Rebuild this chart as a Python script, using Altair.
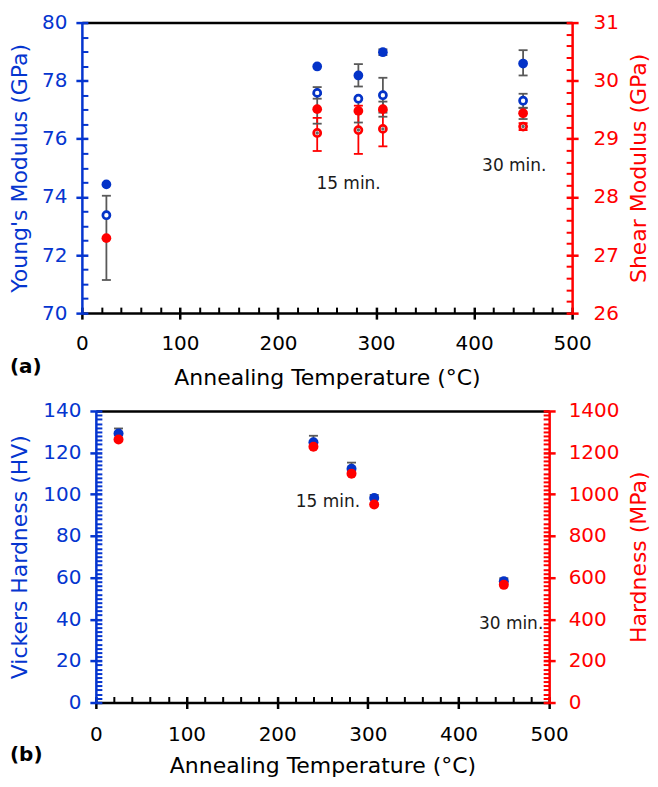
import altair as alt
import pandas as pd

FONT = "DejaVu Sans"
AXIS_BLUE = "#0535CF"
MARK_BLUE = "#0433C8"
RED = "#FF0000"
GRAY = "#595959"
BLACK = "#000000"
CAP = "M-1,0L1,0"

# ---------------- panel (a) data ----------------
temp = [25, 240, 282, 307, 450]
young_filled = [74.43, 78.49, 78.18, 78.98, 78.59]
young_open = [73.37, 77.58, 77.38, 77.50, 77.31]
shear_filled = [27.29, 29.51, 29.48, 29.51, 29.44]
temp_shear_open = [240, 282, 307, 450]
shear_open = [29.10, 29.15, 29.17, 29.21]

young_err_temp = [240, 282, 307, 307, 450, 450]
young_err_lo = [77.38, 77.80, 78.88, 76.90, 78.18, 77.07]
young_err_hi = [77.78, 78.57, 79.08, 78.10, 79.05, 77.55]

shear_err_temp = [25, 240, 282, 307, 450, 240, 282, 307, 450]
shear_err_lo = [26.57, 29.26, 29.28, 29.38, 29.34, 28.79, 28.74, 28.87, 29.15]
shear_err_hi = [28.02, 29.77, 29.68, 29.64, 29.53, 29.36, 29.57, 29.48, 29.27]
shear_err_kind = ["filled", "filled", "filled", "filled", "filled", "open", "open", "open", "open"]

notes_text = ["15 min.", "30 min."]
notes_a_temp = [272, 441]
notes_a_young = [74.43, 75.05]

# ---------------- panel (b) data ----------------
hv = [129.2, 125.0, 112.2, 98.2, 58.2]
hv_err_lo = [126.8, 121.9, 109.2, 96.7, 56.7]
hv_err_hi = [131.6, 128.1, 115.2, 99.7, 59.7]
mpa = [1263, 1228, 1099, 951, 565]
notes_b_temp = [256, 458]
notes_b_hv = [96.2, 37.6]

# ---------------- tick values ----------------
x_major = [0, 100, 200, 300, 400, 500]
x_minor = [v for v in range(0, 501, 20) if v % 100]
young_major = [70, 72, 74, 76, 78, 80]
young_minor = [70 + 0.5 * i for i in range(21) if i % 4]
shear_major = [26, 27, 28, 29, 30, 31]
shear_minor = [26 + 0.2 * i for i in range(26) if i % 5]
hv_major = [0, 20, 40, 60, 80, 100, 120, 140]
hv_minor = [v for v in range(0, 141, 2) if v % 20]
mpa_major = [0, 200, 400, 600, 800, 1000, 1200, 1400]
mpa_minor = [v for v in range(0, 1401, 20) if v % 200]

# ---------------- layout (pixels inside the single view) ----------------
W = 491            # full view width = top panel plot width
A_H = 291          # top panel plot bottom
B_TOP, B_BOT = 389, 681
B_LEFT, B_RIGHT = 14, 468
H = B_BOT


def ax_domain(orient, color, off=0):
    return alt.Axis(orient=orient, domain=True, domainColor=color, domainWidth=2.5,
                    ticks=False, labels=False, grid=False, title=None, offset=off)


def ax_major(orient, color, values, off=-6, title=None, label_pad=10, title_pad=12, **kw):
    args = dict(orient=orient, values=values, domain=False, ticks=True, tickSize=12,
                tickWidth=2.5, tickColor=color, offset=off, labels=True, labelColor=color,
                labelFont=FONT, labelFontSize=20, labelPadding=label_pad, labelFlush=False,
                labelOverlap=False, grid=False, format="d")
    if title:
        args.update(title=title, titleColor=color, titleFont=FONT, titleFontSize=22,
                    titleFontWeight="normal", titlePadding=title_pad)
    else:
        args["title"] = None
    args.update(kw)
    return alt.Axis(**args)


def ax_minor(orient, color, values, off=-6):
    return alt.Axis(orient=orient, values=values, domain=False, ticks=True, tickSize=6,
                    tickWidth=2, tickColor=color, offset=off, labels=False, grid=False,
                    title=None)


def xa(field, axis):
    return alt.X(field, type="quantitative", axis=axis,
                 scale=alt.Scale(domain=[0, 500], range=[0, W], nice=False, zero=False))


def xb(field, axis):
    return alt.X(field, type="quantitative", axis=axis,
                 scale=alt.Scale(domain=[0, 500], range=[B_LEFT, B_RIGHT], nice=False, zero=False))


def ya(field, dom, axis):
    return alt.Y(field, type="quantitative", axis=axis,
                 scale=alt.Scale(domain=dom, range=[A_H, 0], nice=False, zero=False))


def yb(field, dom, axis):
    return alt.Y(field, type="quantitative", axis=axis,
                 scale=alt.Scale(domain=dom, range=[B_BOT, B_TOP], nice=False, zero=False))


# ================= panel (a) =================
YD = [70, 80]
GD = [26, 31]
df_yf = pd.DataFrame({"temp": temp, "v": young_filled})
df_yo = pd.DataFrame({"temp": temp, "v": young_open})
df_sf = pd.DataFrame({"temp": temp, "v": shear_filled})
df_so = pd.DataFrame({"temp": temp_shear_open, "v": shear_open})
df_ye = pd.DataFrame({"temp": young_err_temp, "lo": young_err_lo, "hi": young_err_hi})
df_se = pd.DataFrame({"temp": shear_err_temp, "lo": shear_err_lo, "hi": shear_err_hi,
                      "kind": shear_err_kind})
df_na = pd.DataFrame({"temp": notes_a_temp, "v": notes_a_young, "t": notes_text})
kind_color = alt.Color("kind:N", scale=alt.Scale(domain=["filled", "open"], range=[GRAY, RED]),
                       legend=None)

a_off = -(H - A_H)
layers = [
    alt.Chart(df_ye).mark_rule(color=GRAY, strokeWidth=1.8).encode(
        x=xa("temp", ax_major("bottom", BLACK, x_major, off=a_off - 6,
                              title="Annealing Temperature (°C)", label_pad=14, title_pad=14)),
        y=ya("lo", YD, ax_domain("left", AXIS_BLUE)), y2="hi"),
    alt.Chart(df_ye).mark_point(shape=CAP, size=81, color=GRAY, strokeWidth=1.8, opacity=1).encode(
        x=xa("temp", ax_minor("bottom", BLACK, x_minor, off=a_off - 6)),
        y=ya("lo", YD, ax_major("left", AXIS_BLUE, young_major, title="Young's Modulus (GPa)",
                                label_pad=9, title_pad=10))),
    alt.Chart(df_ye).mark_point(shape=CAP, size=81, color=GRAY, strokeWidth=1.8, opacity=1).encode(
        x=xa("temp", ax_domain("top", BLACK)),
        y=ya("hi", YD, ax_minor("left", AXIS_BLUE, young_minor))),
    alt.Chart(df_se).mark_rule(strokeWidth=1.8).encode(
        x=xa("temp", ax_domain("bottom", BLACK, off=a_off)),
        y=ya("lo", GD, ax_domain("right", RED)), y2="hi", color=kind_color),
    alt.Chart(df_se).mark_point(shape=CAP, size=81, strokeWidth=1.8, opacity=1).encode(
        x=xa("temp", None),
        y=ya("lo", GD, ax_major("right", RED, shear_major, title="Shear Modulus (GPa)",
                                label_pad=15, title_pad=10, titleAngle=270,
                                titleBaseline="top")),
        color=kind_color),
    alt.Chart(df_se).mark_point(shape=CAP, size=81, strokeWidth=1.8, opacity=1).encode(
        x=xa("temp", None),
        y=ya("hi", GD, ax_minor("right", RED, shear_minor)), color=kind_color),
    alt.Chart(df_yf).mark_circle(size=95, color=MARK_BLUE, opacity=1).encode(
        x=xa("temp", None), y=ya("v", YD, None)),
    alt.Chart(df_yo).mark_point(shape="circle", size=50, fill="white", stroke=MARK_BLUE,
                                strokeWidth=2.7, opacity=1, fillOpacity=1).encode(
        x=xa("temp", None), y=ya("v", YD, None)),
    alt.Chart(df_sf).mark_circle(size=95, color=RED, opacity=1).encode(
        x=xa("temp", None), y=ya("v", GD, None)),
    alt.Chart(df_so).mark_point(shape="circle", size=50, fill="white", stroke=RED,
                                strokeWidth=2.7, opacity=1, fillOpacity=1).encode(
        x=xa("temp", None), y=ya("v", GD, None)),
    alt.Chart(df_so).mark_circle(size=12, color="#666666", opacity=1).encode(
        x=xa("temp", None), y=ya("v", GD, None)),
    alt.Chart(df_na).mark_text(font=FONT, fontSize=17, color="#1a1a1a").encode(
        x=xa("temp", None), y=ya("v", YD, None), text="t:N"),
    alt.Chart(pd.DataFrame({"t": ["(a)"]})).mark_text(
        font=FONT, fontSize=20, fontWeight="bold", color=BLACK, align="left",
        baseline="middle").encode(text="t:N", x=alt.value(-72), y=alt.value(A_H + 54)),
]

# ================= panel (b) =================
HD = [0, 140]
MD = [0, 1400]
df_hv = pd.DataFrame({"temp": temp, "v": hv})
df_hve = pd.DataFrame({"temp": temp, "lo": hv_err_lo, "hi": hv_err_hi})
df_mpa = pd.DataFrame({"temp": temp, "v": mpa})
df_nb = pd.DataFrame({"temp": notes_b_temp, "v": notes_b_hv, "t": notes_text})

bl_off = -B_LEFT
br_off = -(W - B_RIGHT)
bt_off = -B_TOP
layers += [
    alt.Chart(df_hve).mark_rule(color=GRAY, strokeWidth=1.8).encode(
        x=xb("temp", ax_major("bottom", BLACK, x_major, off=-6,
                              title="Annealing Temperature (°C)", label_pad=16, title_pad=11)),
        y=yb("lo", HD, ax_domain("left", AXIS_BLUE, off=bl_off)), y2="hi"),
    alt.Chart(df_hve).mark_point(shape=CAP, size=81, color=GRAY, strokeWidth=1.8, opacity=1).encode(
        x=xb("temp", ax_minor("bottom", BLACK, x_minor, off=-6)),
        y=yb("hi", HD, ax_major("left", AXIS_BLUE, hv_major, off=bl_off - 6,
                                title="Vickers Hardness (HV)", label_pad=9, title_pad=11))),
    alt.Chart(df_hve).mark_point(shape=CAP, size=81, color=GRAY, strokeWidth=1.8, opacity=0).encode(
        x=xb("temp", ax_domain("top", BLACK, off=bt_off)),
        y=yb("lo", HD, ax_minor("left", AXIS_BLUE, hv_minor, off=bl_off - 6))),
    alt.Chart(df_mpa).mark_point(opacity=0).encode(
        x=xb("temp", ax_domain("bottom", BLACK)),
        y=yb("v", MD, ax_domain("right", RED, off=br_off))),
    alt.Chart(df_mpa).mark_point(opacity=0).encode(
        x=xb("temp", None), y=yb("v", MD, ax_minor("right", RED, mpa_minor, off=br_off - 6))),
    alt.Chart(df_hv).mark_circle(size=100, color=MARK_BLUE, opacity=1).encode(
        x=xb("temp", None), y=yb("v", HD, None)),
    alt.Chart(df_mpa).mark_circle(size=100, color=RED, opacity=1).encode(
        x=xb("temp", None),
        y=yb("v", MD, ax_major("right", RED, mpa_major, off=br_off - 6, title="Hardness (MPa)",
                               label_pad=13, title_pad=10, titleAngle=270,
                               titleBaseline="top"))),
    alt.Chart(df_nb).mark_text(font=FONT, fontSize=17, color="#1a1a1a").encode(
        x=xb("temp", None), y=yb("v", HD, None), text="t:N"),
    alt.Chart(pd.DataFrame({"t": ["(b)"]})).mark_text(
        font=FONT, fontSize=20, fontWeight="bold", color=BLACK, align="left",
        baseline="middle").encode(text="t:N", x=alt.value(-72), y=alt.value(B_BOT + 53)),
]

chart = alt.layer(*layers).resolve_scale(x="independent", y="independent").properties(
    width=W, height=H, padding={"top": 4, "left": 0, "right": 0, "bottom": 0},
    background="white").configure_view(stroke=None)

chart.save("out.html", embed_options={"renderer": "svg", "actions": False})
